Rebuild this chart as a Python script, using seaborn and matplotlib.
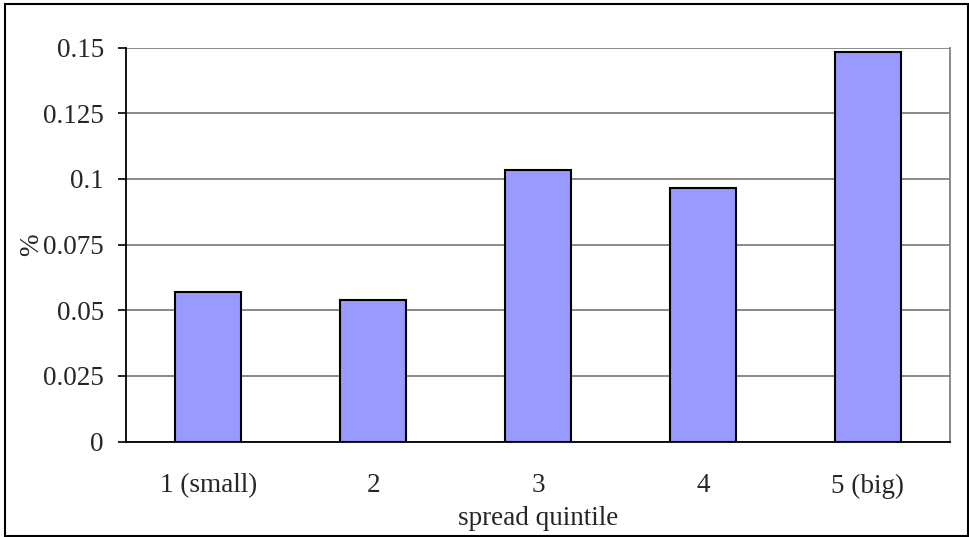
import numpy as np
import pandas as pd
import matplotlib
matplotlib.use("Agg")
import matplotlib.pyplot as plt
import seaborn as sns
from matplotlib.patches import Rectangle

# data
quintiles = ['1 (small)', '2', '3', '4', '5 (big)']
values = [0.0570, 0.0540, 0.1034, 0.0966, 0.1484]
y_ticks = [0, 0.025, 0.05, 0.075, 0.1, 0.125, 0.15]

df = pd.DataFrame({'quintile': quintiles, 'pct': values})

sns.set_style('white')
plt.rcParams['font.family'] = ['Liberation Serif', 'DejaVu Serif']

fig = plt.figure(figsize=(9.69, 5.37), dpi=100)
ax = fig.add_axes([126/969, 1 - 441.5/537, (950 - 126)/969, (441.5 - 47.7)/537])

sns.barplot(data=df, x='quintile', y='pct', color='#9999FF', saturation=1,
            edgecolor='black', linewidth=1.5, width=0.4, ax=ax, zorder=3)

ax.set_ylim(0, 0.15)
ax.set_xlim(-0.5, len(quintiles) - 0.5)
ax.set_yticks(y_ticks)
ax.set_yticklabels(['{:g}'.format(t) for t in y_ticks], fontsize=19.5)
ax.yaxis.grid(True, color='#808080', linewidth=1.3, zorder=0)
ax.set_axisbelow(True)

# x ticks between categories, labels centred under bars
ax.set_xticks(np.arange(len(quintiles)))
ax.set_xticklabels(quintiles, fontsize=19.5)
ax.set_xticks(np.arange(-0.5, len(quintiles)), minor=True)
ax.tick_params(axis='x', which='major', length=0, pad=23)
ax.tick_params(axis='x', which='minor', length=7, width=1.2, color='black', direction='out')
ax.tick_params(axis='y', which='major', length=6, width=1.2, color='black', direction='out', pad=10, left=True)

for side in ['left', 'bottom']:
    ax.spines[side].set_color('black')
    ax.spines[side].set_linewidth(1.3)
ax.spines['right'].set_color('#808080')
ax.spines['right'].set_linewidth(1.3)
ax.spines['top'].set_visible(False)

ax.set_xlabel('spread quintile', fontsize=19.5, labelpad=5)
ax.set_ylabel('%', fontsize=19.5, labelpad=-1)

# outer chart border
fig.patches.append(Rectangle((5/969, 1 - 535.5/537), 963/969, 531.5/537,
                             transform=fig.transFigure, fill=False,
                             edgecolor='black', linewidth=1.5))

fig.savefig('out.png', dpi=100)
